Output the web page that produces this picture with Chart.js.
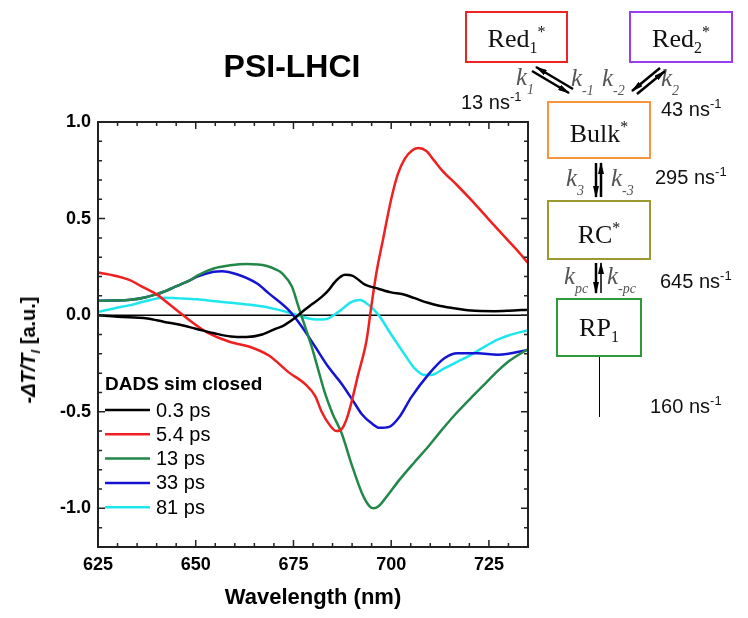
<!DOCTYPE html>
<html>
<head>
<meta charset="utf-8">
<script src="https://cdn.jsdelivr.net/npm/chart.js@4.4.1/dist/chart.umd.min.js"></script>
<style>
  body { margin: 0; background: #fff; }
  #wrap { position: relative; width: 748px; height: 618px; overflow: hidden; font-family: "Liberation Sans", Arial, sans-serif; }
  #chart { position: absolute; left: 0; top: 0; }
  .abs { position: absolute; white-space: nowrap; }
  .title { left: 200px; top: 48px; width: 184px; text-align: center; font-weight: bold; font-size: 32px; }
  .ylab { left: 30px; top: 350px; transform: translate(-50%, -50%) rotate(-90deg); font-weight: bold; font-size: 20px; }
  .box { position: absolute; box-sizing: border-box; border: 2px solid; font-family: "Liberation Serif", "Times New Roman", serif; font-size: 26px; color: #111; text-align: center; line-height: 1; }
  .box sub { font-size: 16px; vertical-align: -6px; }
  .box sup { font-size: 16px; vertical-align: 10px; }
  .rate { font-size: 20px; color: #111; }
  .rate sup { font-size: 13px; vertical-align: 8px; }
  .k { font-family: "Liberation Serif", serif; font-style: italic; font-size: 25px; color: #555; }
  .k sub { font-size: 14px; vertical-align: -9px; }
</style>
</head>
<body>
<div id="wrap">
  <canvas id="chart" width="748" height="618"></canvas>

  <div class="abs title">PSI-LHCI</div>
  <div class="abs ylab"><i>-ΔT/T</i><sub style="font-size:13px;font-style:italic">l</sub> [a.u.]</div>

  <div class="box" style="left:465px;top:11px;width:103px;height:52px;border-color:#ee2424;padding-top:11px;">Red<sub>1</sub><sup>*</sup></div>
  <div class="box" style="left:629px;top:11px;width:104px;height:52px;border-color:#9a3cf0;padding-top:11px;">Red<sub>2</sub><sup>*</sup></div>
  <div class="box" style="left:547px;top:101px;width:104px;height:58px;border-color:#f7963c;padding-top:16px;">Bulk<sup>*</sup></div>
  <div class="box" style="left:547px;top:200px;width:104px;height:60px;border-color:#9a9a30;padding-top:18px;">RC<sup>*</sup></div>
  <div class="box" style="left:556px;top:298px;width:86px;height:59px;border-color:#2e9a3a;padding-top:15px;">RP<sub>1</sub></div>

  <div class="abs k" style="left:516px;top:63px;">k<sub>1</sub></div>
  <div class="abs k" style="left:571px;top:64px;">k<sub>-1</sub></div>
  <div class="abs k" style="left:602px;top:64px;">k<sub>-2</sub></div>
  <div class="abs k" style="left:661px;top:64px;">k<sub>2</sub></div>
  <div class="abs k" style="left:566px;top:164px;">k<sub>3</sub></div>
  <div class="abs k" style="left:611px;top:164px;">k<sub>-3</sub></div>
  <div class="abs k" style="left:564px;top:262px;">k<sub>pc</sub></div>
  <div class="abs k" style="left:607px;top:262px;">k<sub>-pc</sub></div>

  <div class="abs rate" style="left:461px;top:89px;">13 ns<sup>-1</sup></div>
  <div class="abs rate" style="left:661px;top:96px;">43 ns<sup>-1</sup></div>
  <div class="abs rate" style="left:655px;top:164px;">295 ns<sup>-1</sup></div>
  <div class="abs rate" style="left:660px;top:268px;">645 ns<sup>-1</sup></div>
  <div class="abs rate" style="left:650px;top:393px;">160 ns<sup>-1</sup></div>

  <svg class="abs" style="left:0;top:0;" width="748" height="618">
    <defs>
      <marker id="ah" markerUnits="userSpaceOnUse" markerWidth="12" markerHeight="6" refX="11" refY="3" orient="auto-start-reverse">
        <path d="M0,0 L12,3 L0,6 z" fill="#000"/>
      </marker>
    </defs>
    <g stroke="#000" stroke-width="2.5" fill="none">
      <line x1="532" y1="71" x2="569" y2="93" marker-end="url(#ah)"/>
      <line x1="536" y1="67" x2="573" y2="89" marker-start="url(#ah)"/>
      <line x1="660" y1="68" x2="632" y2="91" marker-end="url(#ah)"/>
      <line x1="665" y1="71" x2="637" y2="94" marker-start="url(#ah)"/>
      <line x1="596" y1="163" x2="596" y2="197" marker-end="url(#ah)"/>
      <line x1="601" y1="163" x2="601" y2="197" marker-start="url(#ah)"/>
      <line x1="596" y1="263" x2="596" y2="293" marker-end="url(#ah)"/>
      <line x1="601" y1="263" x2="601" y2="293" marker-start="url(#ah)" stroke-width="1.5"/>
      <line x1="599.5" y1="357" x2="599.5" y2="417" stroke-width="1"/>
    </g>
  </svg>
</div>

<script>
// DADS spectra (wavelength in nm, amplitude in a.u.)
const wl03  = [625, 630, 637.6, 642, 646, 650, 655, 659, 663, 667, 670.7, 672.1, 675, 677.2, 680, 682.3, 684, 685.7, 688.2, 690, 693.3, 696.7, 700, 703, 706, 709.4, 712, 715.3, 720.4, 726.4, 730, 735];
const dads03 = [0.0, -0.008, -0.017, -0.035, -0.05, -0.07, -0.095, -0.11, -0.113, -0.1, -0.068, -0.058, -0.02, 0.017, 0.06, 0.096, 0.13, 0.174, 0.209, 0.205, 0.158, 0.137, 0.118, 0.108, 0.088, 0.064, 0.05, 0.038, 0.024, 0.021, 0.023, 0.028];

const wl54  = [625, 628, 633.3, 636, 640.3, 643, 646.2, 650.4, 653, 658.8, 663.6, 668.7, 673.8, 678, 680.6, 682.2, 684.5, 686, 687.5, 689, 691.6, 693.7, 694.9, 696.2, 697.9, 700, 701.7, 703.5, 705.5, 707, 709, 711, 713, 717, 721, 725, 729.7, 732.3, 735];
const dads54 = [0.221, 0.21, 0.18, 0.15, 0.104, 0.06, 0.009, -0.056, -0.09, -0.139, -0.162, -0.209, -0.296, -0.357, -0.42, -0.5, -0.575, -0.6, -0.585, -0.513, -0.304, -0.13, 0.043, 0.217, 0.391, 0.6, 0.73, 0.81, 0.855, 0.866, 0.85, 0.8, 0.75, 0.67, 0.585, 0.495, 0.391, 0.334, 0.27];

const wl13  = [625, 629, 633.3, 637, 640.3, 644, 646.2, 648.5, 650.4, 654.6, 658.8, 663.1, 668.2, 670.7, 672.1, 674.6, 676.3, 678, 679.7, 681.4, 683, 685, 687.3, 690, 692.5, 694.5, 695.5, 697, 699, 702, 706, 709.5, 712.7, 717, 721.3, 724, 727.2, 730, 735];
const dads13 = [0.075, 0.076, 0.08, 0.092, 0.11, 0.14, 0.16, 0.18, 0.205, 0.242, 0.258, 0.265, 0.255, 0.235, 0.217, 0.148, 0.043, -0.061, -0.165, -0.287, -0.4, -0.51, -0.61, -0.78, -0.92, -0.99, -1.0, -0.985, -0.935, -0.855, -0.76, -0.68, -0.6, -0.5, -0.41, -0.355, -0.29, -0.24, -0.175];

const wl33  = [625, 629, 633.3, 637, 640.3, 644, 646.2, 648.5, 650.4, 654.6, 656.7, 660.5, 665.6, 668.7, 673.8, 677.2, 680.6, 684, 687.4, 690.8, 692.5, 695, 697, 699.5, 702, 705.2, 709.4, 713.6, 717, 722.1, 727.2, 730, 735];
const dads33 = [0.075, 0.076, 0.08, 0.092, 0.11, 0.14, 0.16, 0.18, 0.2, 0.225, 0.228, 0.212, 0.165, 0.113, 0.026, -0.061, -0.165, -0.27, -0.357, -0.461, -0.513, -0.56, -0.583, -0.578, -0.53, -0.423, -0.31, -0.223, -0.197, -0.197, -0.205, -0.2, -0.18];

const wl81  = [625, 629, 633.3, 637, 641.9, 646, 650.4, 655, 659, 663.6, 667.3, 670.7, 674.6, 678.9, 681, 683.1, 686.5, 689.9, 692, 694.1, 696.7, 700, 703.5, 706, 708.6, 710.2, 713.6, 717, 720.4, 723.5, 727.2, 730, 735];
const dads81 = [0.017, 0.035, 0.052, 0.072, 0.09, 0.087, 0.082, 0.072, 0.064, 0.055, 0.045, 0.03, 0.009, -0.017, -0.022, -0.021, 0.017, 0.069, 0.078, 0.055, 0.003, -0.1, -0.205, -0.275, -0.31, -0.31, -0.275, -0.24, -0.205, -0.168, -0.127, -0.105, -0.078];

const seriesLabels = ['0.3 ps', '5.4 ps', '13 ps', '33 ps', '81 ps'];
const seriesColors = ['#000000', '#f02020', '#23874a', '#1414d2', '#1ee6ee'];
const xTicks = [625, 650, 675, 700, 725];
const yTicks = [-1.0, -0.5, 0.0, 0.5, 1.0];
const legendTitle = 'DADS sim closed';

const wls = [wl03, wl54, wl13, wl33, wl81];
const vals = [dads03, dads54, dads13, dads33, dads81];

const datasets = seriesLabels.map((lab, i) => ({
    label: lab,
    data: wls[i].map((x, j) => ({ x: x, y: vals[i][j] })),
    borderColor: seriesColors[i],
    backgroundColor: seriesColors[i],
    borderWidth: 2.5,
    pointRadius: 0,
    showLine: true,
    cubicInterpolationMode: 'monotone',
    fill: false
}));

const axisFont = { family: '"Liberation Sans", Arial, sans-serif', size: 18, weight: 'bold' };

// frame, inward ticks on all four sides, zero line and the inner legend
const framePlugin = {
    id: 'frame',
    beforeDatasetsDraw(chart) {
        const { ctx, chartArea: a, scales: { y } } = chart;
        const y0 = y.getPixelForValue(0);
        ctx.save();
        ctx.strokeStyle = '#000';
        ctx.lineWidth = 1.5;
        ctx.beginPath();
        ctx.moveTo(a.left, y0);
        ctx.lineTo(a.right, y0);
        ctx.stroke();
        ctx.restore();
    },
    afterDatasetsDraw(chart) {
        const { ctx, chartArea: a, scales: { x, y } } = chart;
        ctx.save();
        ctx.strokeStyle = '#222';
        ctx.lineWidth = 2;
        ctx.strokeRect(a.left, a.top, a.right - a.left, a.bottom - a.top);

        ctx.lineWidth = 1.5;
        ctx.beginPath();
        for (let v = 625; v <= 735; v += 5) {
            const px = x.getPixelForValue(v);
            const len = (v % 25 === 0) ? 7 : 4;
            ctx.moveTo(px, a.bottom); ctx.lineTo(px, a.bottom - len);
            ctx.moveTo(px, a.top); ctx.lineTo(px, a.top + len);
        }
        for (let k = -12; k <= 10; k++) {
            const v = k / 10;
            const py = y.getPixelForValue(v);
            const len = (k % 5 === 0) ? 7 : 4;
            ctx.moveTo(a.left, py); ctx.lineTo(a.left + len, py);
            ctx.moveTo(a.right, py); ctx.lineTo(a.right - len, py);
        }
        ctx.stroke();

        // legend inside the plot
        ctx.fillStyle = '#000';
        ctx.textBaseline = 'middle';
        ctx.font = 'bold 19px "Liberation Sans", Arial, sans-serif';
        ctx.fillText(legendTitle, 105, 385);
        ctx.font = '20px "Liberation Sans", Arial, sans-serif';
        chart.data.datasets.forEach((ds, i) => {
            const ry = 410 + i * 24.3;
            ctx.strokeStyle = ds.borderColor;
            ctx.lineWidth = 2.5;
            ctx.beginPath();
            ctx.moveTo(105, ry);
            ctx.lineTo(150, ry);
            ctx.stroke();
            ctx.fillText(ds.label, 156, ry + 1);
        });
        ctx.restore();
    }
};

new Chart(document.getElementById('chart'), {
    type: 'scatter',
    data: { datasets: datasets },
    options: {
        responsive: false,
        animation: false,
        layout: { padding: { left: 0, top: 122, right: 220, bottom: 0 } },
        plugins: { legend: { display: false }, tooltip: { enabled: false } },
        scales: {
            x: {
                type: 'linear',
                min: 625,
                max: 735,
                afterFit(scale) { scale.height = 71; },
                afterBuildTicks(scale) { scale.ticks = xTicks.map(v => ({ value: v })); },
                grid: { display: false, drawTicks: false },
                border: { display: false },
                ticks: { color: '#000', font: axisFont, padding: 7 },
                title: {
                    display: true,
                    text: 'Wavelength (nm)',
                    color: '#000',
                    font: { family: '"Liberation Sans", Arial, sans-serif', size: 22, weight: 'bold' },
                    padding: { top: 0, bottom: 7 }
                }
            },
            y: {
                type: 'linear',
                min: -1.2,
                max: 1.0,
                afterFit(scale) { scale.width = 98; },
                afterBuildTicks(scale) { scale.ticks = yTicks.map(v => ({ value: v })); },
                grid: { display: false, drawTicks: false },
                border: { display: false },
                ticks: { color: '#000', font: axisFont, padding: 7, callback: v => v.toFixed(1) }
            }
        }
    },
    plugins: [framePlugin]
});
</script>
</body>
</html>
